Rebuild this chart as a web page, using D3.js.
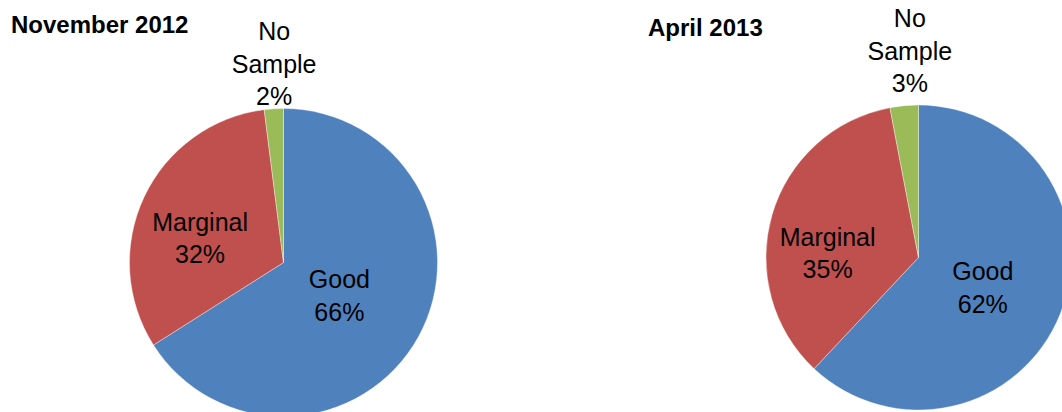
<!DOCTYPE html>
<html>
<head>
<meta charset="utf-8">
<script src="https://cdn.jsdelivr.net/npm/d3@7"></script>
<style>
  html, body { margin: 0; padding: 0; background: #fff; }
  svg { display: block; }
  text { font-family: "Liberation Sans", Arial, sans-serif; fill: #000; }
</style>
</head>
<body>
<svg id="chart" width="1062" height="412"></svg>
<script>
// Sample quality shares per survey period
const categories = ["Good", "Marginal", "No Sample"];
const nov2012 = [66, 32, 2];
const apr2013 = [62, 35, 3];
const periodTitles = ["November 2012", "April 2013"];
const sliceColors = ["#4F81BD", "#C0504D", "#9BBB59"];

// Layout for each pie: centre, radius, title anchor
const pieLayout = [
  { cx: 283.5, cy: 262.5, r: 154, titleX: 11, titleY: 33 },
  { cx: 918.5, cy: 257.5, r: 152.5, titleX: 648, titleY: 36 }
];
// Label anchors relative to each slice's middle angle: [angle shift (deg), distance (px)]
const labelPlacement = [
  [[1.9, 65], [-8.7, 87], [0.9, 199]],
  [[3.5, 71], [-13.2, 91], [3.0, 207]]
];

const fontSize = 25;
const lineHeight = 32.5;
const capHalf = 9;

const svg = d3.select("#chart");
const pie = d3.pie().sort(null).value(d => d.value).startAngle(0).endAngle(2 * Math.PI);
const color = d3.scaleOrdinal().domain(categories).range(sliceColors);

[nov2012, apr2013].forEach((values, i) => {
  const lay = pieLayout[i];
  const data = categories.map((c, k) => ({ category: c, value: values[k] }));
  const arcs = pie(data);
  const arc = d3.arc().innerRadius(0).outerRadius(lay.r);

  const g = svg.append("g").attr("transform", `translate(${lay.cx},${lay.cy})`);

  g.selectAll("path.slice")
    .data(arcs)
    .join("path")
    .attr("class", "slice")
    .attr("d", arc)
    .attr("fill", d => color(d.data.category))
    .attr("stroke", "#ffffff")
    .attr("stroke-opacity", 0.6)
    .attr("stroke-width", 0.6);

  // Slice labels: category name (split into words for the outside one) and percentage
  arcs.forEach((d, k) => {
    const [shiftDeg, dist] = labelPlacement[i][k];
    const mid = (d.startAngle + d.endAngle) / 2 + shiftDeg * Math.PI / 180;
    const ax = Math.sin(mid) * dist;
    const ay = -Math.cos(mid) * dist;
    const nameLines = d.data.category === "No Sample" ? ["No", "Sample"] : [d.data.category];
    const lines = nameLines.concat([d3.format("d")(d.data.value) + "%"]);
    const n = lines.length;
    const t = g.append("text")
      .attr("text-anchor", "middle")
      .attr("font-size", fontSize);
    lines.forEach((ln, j) => {
      t.append("tspan")
        .attr("x", ax)
        .attr("y", ay + (j - (n - 1) / 2) * lineHeight + capHalf)
        .text(ln);
    });
  });

  svg.append("text")
    .attr("x", lay.titleX)
    .attr("y", lay.titleY)
    .attr("font-size", 24)
    .attr("font-weight", "bold")
    .text(periodTitles[i]);
});
</script>
</body>
</html>
